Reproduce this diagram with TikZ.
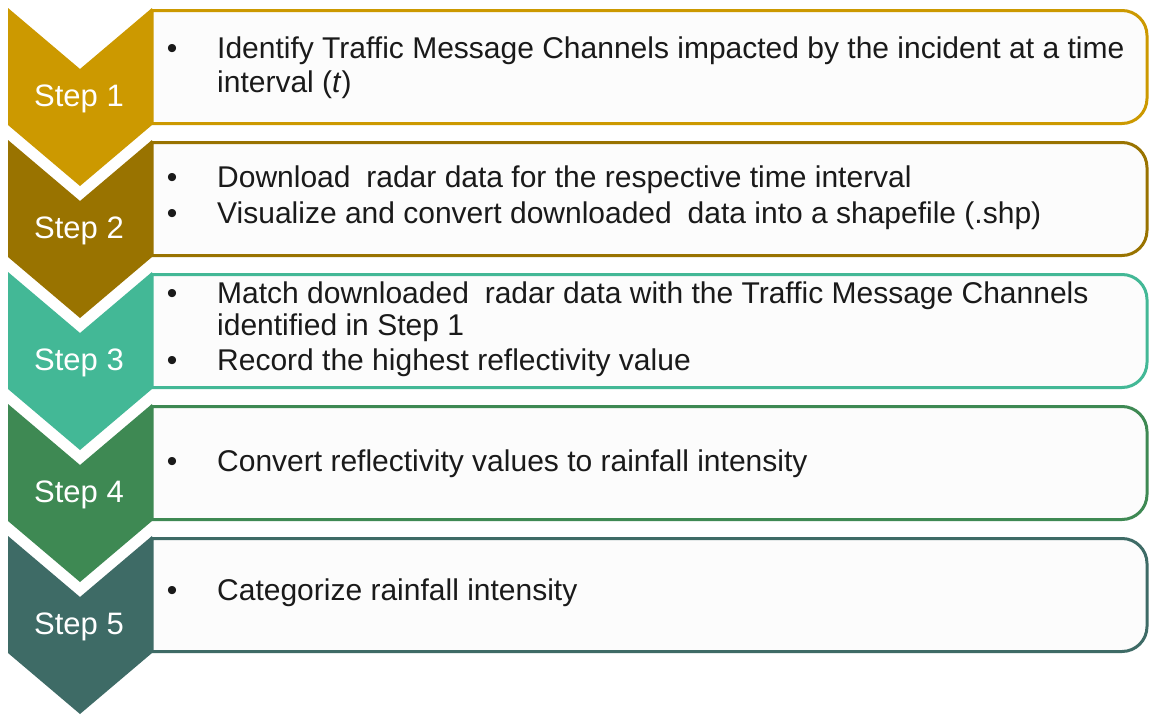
\documentclass[tikz,border=0pt]{standalone}
\usepackage{fontspec}
\setmainfont{Liberation Sans}
\definecolor{stepA}{RGB}{204,153,0}
\definecolor{stepB}{RGB}{153,115,0}
\definecolor{stepC}{RGB}{67,184,150}
\definecolor{stepD}{RGB}{62,137,83}
\definecolor{stepE}{RGB}{62,107,102}
\definecolor{boxfill}{RGB}{252,252,252}
\definecolor{ink}{RGB}{26,26,26}
\begin{document}
\begin{tikzpicture}[x=1pt,y=-1pt,
  panel/.style={draw=#1,line width=3pt,fill=boxfill},
  steplabel/.style={text=white,font=\fontsize{31}{37}\selectfont,anchor=base,inner sep=0pt},
  item/.style={text=ink,font=\fontsize{30}{35}\selectfont,anchor=base west,inner sep=0pt},
  dot/.style={text=ink,font=\fontsize{30}{35}\selectfont,anchor=base,inner sep=0pt}]
\useasboundingbox[fill=white] (0,0) rectangle (1149,715);
% one text panel and one chevron per step
\foreach \T/\c/\n in {8/stepA/1,140/stepB/2,272/stepC/3,404/stepD/4,536/stepE/5}{
  \draw[panel=\c] (152,\T+2.5) -- (1122,\T+2.5)
    arc[start angle=-90,end angle=0,radius=25] -- (1147,\T+90.5)
    arc[start angle=0,end angle=90,radius=25] -- (152,\T+115.5) -- cycle;
  \fill[\c] (8,\T) -- (80,\T+61) -- (152,\T) -- (152,\T+117)
    -- (80,\T+178) -- (8,\T+117) -- cycle;
  \node[steplabel] (s\n) at (79,\T+98) {Step \n};
}
% step 1
\node[dot] (b1) at (172,58) {•};
\node[item] (t1a) at (217,58) {Identify Traffic Message Channels impacted by the incident at a time};
\node[item] (t1b) at (217,92) {interval (\textit{t})};
% step 2
\node[dot] (b2a) at (172,187) {•};
\node[item] (t2a) at (217,187) {Download\hspace{0.25em} radar data for the respective time interval};
\node[dot] (b2b) at (172,223) {•};
\node[item] (t2b) at (217,223) {Visualize and convert downloaded\hspace{0.25em} data into a shapefile (.shp)};
% step 3
\node[dot] (b3a) at (172,303) {•};
\node[item] (t3a) at (217,303) {Match downloaded\hspace{0.25em} radar data with the Traffic Message Channels};
\node[item] (t3b) at (217,335) {identified in Step 1};
\node[dot] (b3b) at (172,370) {•};
\node[item] (t3c) at (217,370) {Record the highest reflectivity value};
% step 4
\node[dot] (b4) at (172,471) {•};
\node[item] (t4) at (217,471) {Convert reflectivity values to rainfall intensity};
% step 5
\node[dot] (b5) at (172,600) {•};
\node[item] (t5) at (217,600) {Categorize rainfall intensity};
\end{tikzpicture}
\end{document}
